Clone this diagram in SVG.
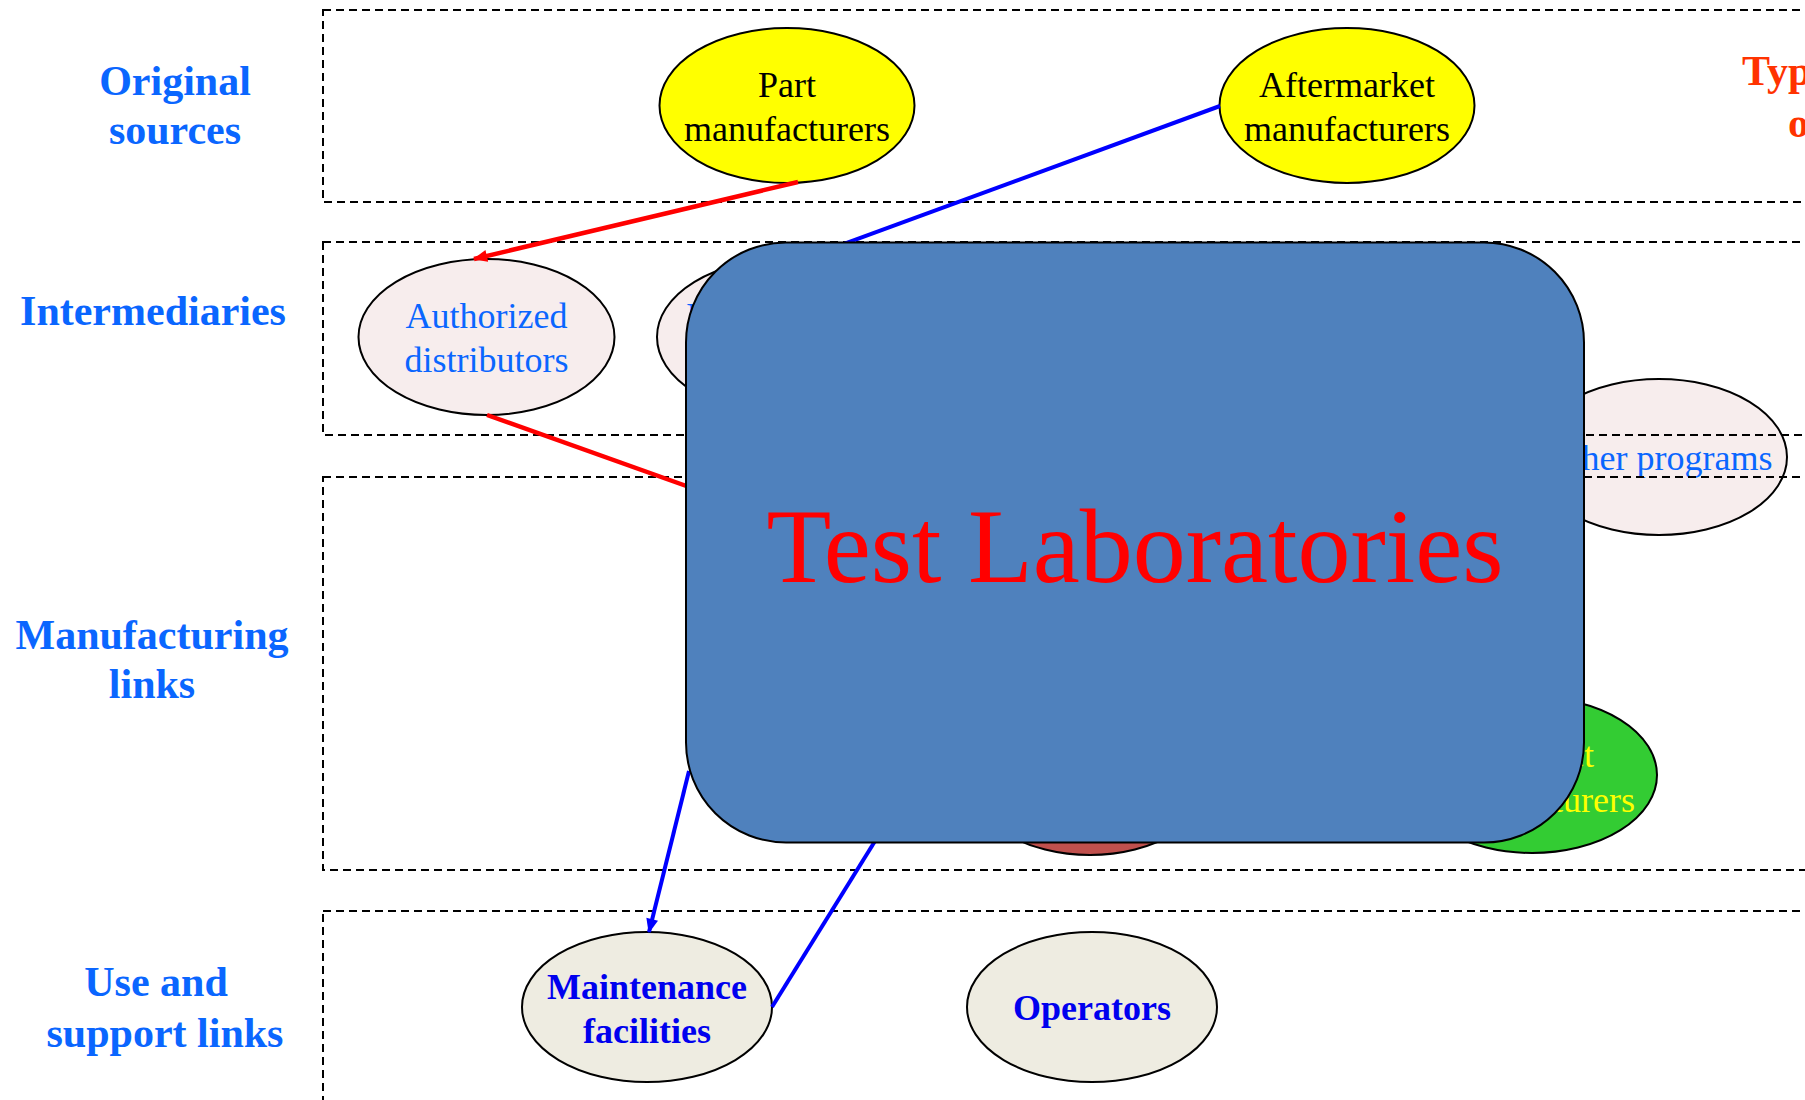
<svg xmlns="http://www.w3.org/2000/svg" width="1805" height="1100" viewBox="0 0 1805 1100">
  <style>
    .frame { fill: none; stroke: #000; stroke-width: 2; stroke-dasharray: 8 5; }
    .row { font-family: "Liberation Serif", "Times New Roman", serif; font-weight: bold; font-size: 42px; fill: #0a66ff; text-anchor: middle; }
    .node { stroke: #000; stroke-width: 2; }
    .src { fill: #ffff00; }
    .mid { fill: #f7eded; }
    .use { fill: #eeece1; }
    .t { font-family: "Liberation Serif", "Times New Roman", serif; font-size: 36px; text-anchor: middle; }
    .tb { font-family: "Liberation Serif", "Times New Roman", serif; font-size: 36px; font-weight: bold; text-anchor: middle; fill: #0000ee; }
    .red { fill: none; stroke: #ff0000; stroke-width: 4.5; }
    .blue { fill: none; stroke: #0000ff; stroke-width: 4; }
  </style>
  <defs>
    <marker id="headRed" viewBox="0 0 12 10" refX="11" refY="5" markerWidth="15" markerHeight="12" markerUnits="userSpaceOnUse" orient="auto">
      <path d="M0,0 L12,5 L0,10 z" fill="#ff0000"/>
    </marker>
    <marker id="headBlue" viewBox="0 0 12 10" refX="11" refY="5" markerWidth="15" markerHeight="12" markerUnits="userSpaceOnUse" orient="auto">
      <path d="M0,0 L12,5 L0,10 z" fill="#0000ff"/>
    </marker>
  </defs>
  <rect width="1805" height="1100" fill="#fff"/>

  <!-- row labels -->
  <g id="labels">
    <text class="row" x="175" y="95">Original</text>
    <text class="row" x="175" y="144">sources</text>
    <text class="row" x="153" y="325">Intermediaries</text>
    <text class="row" x="152" y="649">Manufacturing</text>
    <text class="row" x="152" y="698">links</text>
    <text class="row" x="156" y="996">Use and</text>
    <text class="row" x="165" y="1047">support links</text>
    <text x="1742" y="85" font-family="Liberation Serif, Times New Roman, serif" font-weight="bold" font-size="42" fill="#ff3300">Types</text>
    <text x="1788" y="137" font-family="Liberation Serif, Times New Roman, serif" font-weight="bold" font-size="42" fill="#ff3300">of</text>
  </g>

  <!-- supply chain nodes -->
  <g id="part-manufacturers">
    <ellipse class="node src" cx="787" cy="105.5" rx="127.5" ry="77.5"/>
    <text class="t" x="787" y="97" fill="#000">Part</text>
    <text class="t" x="787" y="141" fill="#000">manufacturers</text>
  </g>
  <g id="aftermarket-manufacturers">
    <ellipse class="node src" cx="1347" cy="105.5" rx="127.5" ry="77.5"/>
    <text class="t" x="1347" y="97" fill="#000">Aftermarket</text>
    <text class="t" x="1347" y="141" fill="#000">manufacturers</text>
  </g>
  <g id="authorized-distributors">
    <ellipse class="node mid" cx="486.5" cy="337" rx="128" ry="78"/>
    <text class="t" x="486.5" y="328" fill="#0a66ff">Authorized</text>
    <text class="t" x="486.5" y="372" fill="#0a66ff">distributors</text>
  </g>
  <g id="independent-distributors">
    <ellipse class="node mid" cx="785" cy="337" rx="128" ry="78"/>
    <text class="t" x="775" y="328" fill="#0a66ff">Independent</text>
    <text class="t" x="775" y="372" fill="#0a66ff">distributors</text>
  </g>
  <g id="other-programs">
    <ellipse class="node mid" cx="1659" cy="457" rx="128" ry="78"/>
    <text class="t" x="1659" y="470" fill="#0a66ff">Other programs</text>
  </g>
  <g id="manufacturer-red">
    <ellipse class="node" cx="1090" cy="777" rx="122" ry="78" fill="#c0504d"/>
  </g>
  <g id="contract-manufacturers">
    <ellipse class="node" cx="1532" cy="775" rx="125" ry="78" fill="#33cc33"/>
    <text class="t" x="1532" y="767" fill="#ffff00">Contract</text>
    <text class="t" x="1532" y="812" fill="#ffff00">manufacturers</text>
  </g>
  <g id="maintenance-facilities">
    <ellipse class="node use" cx="647" cy="1007" rx="125" ry="75"/>
    <text class="tb" x="647" y="999">Maintenance</text>
    <text class="tb" x="647" y="1043">facilities</text>
  </g>
  <g id="operators">
    <ellipse class="node use" cx="1092" cy="1007" rx="125" ry="75"/>
    <text class="tb" x="1092" y="1020">Operators</text>
  </g>

  <!-- dashed tier frames -->
  <g id="frames">
    <rect class="frame" x="323" y="10" width="1540" height="192"/>
    <rect class="frame" x="323" y="242" width="1540" height="193"/>
    <rect class="frame" x="323" y="477" width="1540" height="393"/>
    <rect class="frame" x="323" y="911" width="1540" height="240"/>
  </g>

  <!-- connectors -->
  <g id="connectors">
    <line class="red" x1="798" y1="182" x2="474" y2="259" marker-end="url(#headRed)"/>
    <line class="red" x1="487" y1="415" x2="720" y2="498"/>
    <line class="blue" x1="1220" y1="106" x2="800" y2="260" stroke-width="4.5"/>
    <line class="blue" x1="689" y1="771" x2="649" y2="932" marker-end="url(#headBlue)"/>
    <line class="blue" x1="772" y1="1007" x2="885" y2="825"/>
  </g>

  <!-- test laboratories block -->
  <g id="test-laboratories">
    <rect x="686" y="242.5" width="898" height="600" rx="100" ry="100" fill="#4f81bd" stroke="#000" stroke-width="2"/>
    <text x="1135" y="582" font-family="Liberation Serif, Times New Roman, serif" font-size="106" fill="#ff0000" text-anchor="middle">Test Laboratories</text>
  </g>
</svg>
